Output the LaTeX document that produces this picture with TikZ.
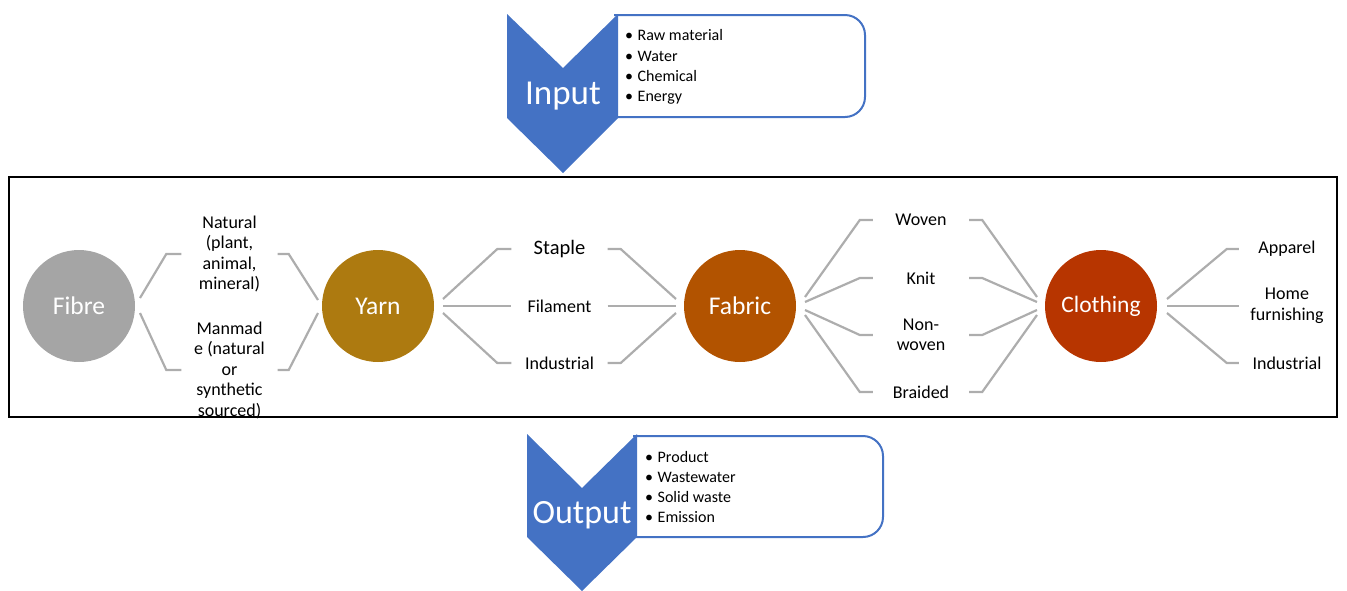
\documentclass[tikz,border=0pt]{standalone}
\usepackage{fontspec}
\setmainfont{Carlito}
\definecolor{ablue}{HTML}{4472C4}
\definecolor{fibregray}{HTML}{A5A5A5}
\definecolor{yarnc}{HTML}{AD7A10}
\definecolor{fabricc}{HTML}{B25300}
\definecolor{clothc}{HTML}{B73500}
\definecolor{connc}{HTML}{ADADAD}
\newcommand\itm{\makebox[12.5pt][l]{•}}
\begin{document}
\begin{tikzpicture}[x=1pt,y=-1pt,
  stage/.style={circle, minimum size=112pt, inner sep=0pt, text=white, font=\fontsize{25.5}{30}\selectfont},
  lbl/.style={minimum width=96pt, inner sep=0pt, align=center, font=\fontsize{18}{20.5}\selectfont},
  conn/.style={draw=connc, line width=2.2pt},
  chevron/.style={fill=ablue},
  infobox/.style={draw=ablue, line width=2pt, fill=white, rounded corners=20pt},
  listtext/.style={anchor=west, inner sep=0pt, align=left, font=\fontsize{16}{20.3}\selectfont},
  bigword/.style={text=white, inner sep=0pt, font=\fontsize{35}{40}\selectfont},
]
\useasboundingbox (0,0) rectangle (1347,590);

% ---- input block: box rounded on the right, chevron over its left end ----
\draw[infobox] (614,15) -- (865,15) -- (865,117) -- (614,117);
\fill[chevron] (507,14) -- (563,68) -- (618,14) -- (618,118) -- (563,173) -- (507,118) -- cycle;
\node[bigword] (input) at (563,96) {Input};
\node[listtext] (inlist) at (625,67) {\itm Raw material\\\itm Water\\\itm Chemical\\\itm Energy};

% ---- output block ----
\draw[infobox] (633,436) -- (883,436) -- (883,537) -- (633,537);
\fill[chevron] (527,434) -- (582,488) -- (637,434) -- (637,537) -- (582,591) -- (527,537) -- cycle;
\node[bigword, font=\fontsize{34}{40}\selectfont] (output) at (582,515) {Output};
\node[listtext] (outlist) at (645,487) {\itm Product\\\itm Wastewater\\\itm Solid waste\\\itm Emission};

% ---- process frame ----
\draw[line width=2.5pt] (9,177) rectangle (1337,417);

% ---- stages ----
\node[stage, fill=fibregray] (fibre) at (79,306) {Fibre};
\node[stage, fill=yarnc] (yarn) at (378,306) {Yarn};
\node[stage, fill=fabricc] (fabric) at (740,306) {Fabric};
\node[stage, fill=clothc, font=\fontsize{23.5}{28}\selectfont] (cloth) at (1101,306) {Clothing};

% ---- branch labels ----
\node[lbl] (natural) at (229.5,254) {Natural\\(plant,\\animal,\\mineral)};
\node[lbl] (manmade) at (229.5,370) {Manmad\\e (natural\\or\\synthetic\\sourced)};
\node[lbl, font=\fontsize{20.5}{24}\selectfont] (staple) at (559.5,249) {Staple};
\node[lbl] (filament) at (559.5,306) {Filament};
\node[lbl] (indy) at (559.5,363) {Industrial};
\node[lbl] (woven) at (921,220) {Woven};
\node[lbl] (knit) at (921,278) {Knit};
\node[lbl] (nonwoven) at (921,335) {Non-\\woven};
\node[lbl] (braided) at (921,392) {Braided};
\node[lbl] (apparel) at (1287,249) {Apparel};
\node[lbl] (home) at (1287,306) {Home\\furnishing};
\node[lbl] (indc) at (1287,363) {Industrial};

% ---- fibre -> yarn ----
\draw[conn] ([shift={(61,-8)}]fibre.center) -- ([xshift=-15]natural.west) -- (natural.west);
\draw[conn] ([shift={(61,7)}]fibre.center) -- ([xshift=-15]manmade.west) -- (manmade.west);
\draw[conn] (natural.east) -- ([xshift=11]natural.east) -- ([shift={(-60,-6)}]yarn.center);
\draw[conn] (manmade.east) -- ([xshift=11]manmade.east) -- ([shift={(-60,7)}]yarn.center);

% ---- yarn -> fabric ----
\draw[conn] ([shift={(65,-7)}]yarn.center) -- ([xshift=-14]staple.west) -- (staple.west);
\draw[conn] ([shift={(65,0)}]yarn.center) -- (filament.west);
\draw[conn] ([shift={(65,7)}]yarn.center) -- ([xshift=-14]indy.west) -- (indy.west);
\draw[conn] (staple.east) -- ([xshift=13]staple.east) -- ([shift={(-64,-7)}]fabric.center);
\draw[conn] (filament.east) -- ([shift={(-64,0)}]fabric.center);
\draw[conn] (indy.east) -- ([xshift=13]indy.east) -- ([shift={(-64,7)}]fabric.center);

% ---- fabric -> clothing ----
\draw[conn] ([shift={(65,-9)}]fabric.center) -- ([xshift=-13]woven.west) -- (woven.west);
\draw[conn] ([shift={(65,-4)}]fabric.center) -- ([xshift=-13]knit.west) -- (knit.west);
\draw[conn] ([shift={(65,4)}]fabric.center) -- ([xshift=-13]nonwoven.west) -- (nonwoven.west);
\draw[conn] ([shift={(65,9)}]fabric.center) -- ([xshift=-13]braided.west) -- (braided.west);
\draw[conn] (woven.east) -- ([xshift=13]woven.east) -- ([shift={(-64,-9)}]cloth.center);
\draw[conn] (knit.east) -- ([xshift=13]knit.east) -- ([shift={(-64,-4)}]cloth.center);
\draw[conn] (nonwoven.east) -- ([xshift=13]nonwoven.east) -- ([shift={(-64,4)}]cloth.center);
\draw[conn] (braided.east) -- ([xshift=13]braided.east) -- ([shift={(-64,9)}]cloth.center);

% ---- clothing -> end uses ----
\draw[conn] ([shift={(66,-7)}]cloth.center) -- ([xshift=-12]apparel.west) -- (apparel.west);
\draw[conn] ([shift={(66,0)}]cloth.center) -- (home.west);
\draw[conn] ([shift={(66,7)}]cloth.center) -- ([xshift=-12]indc.west) -- (indc.west);
\end{tikzpicture}
\end{document}
